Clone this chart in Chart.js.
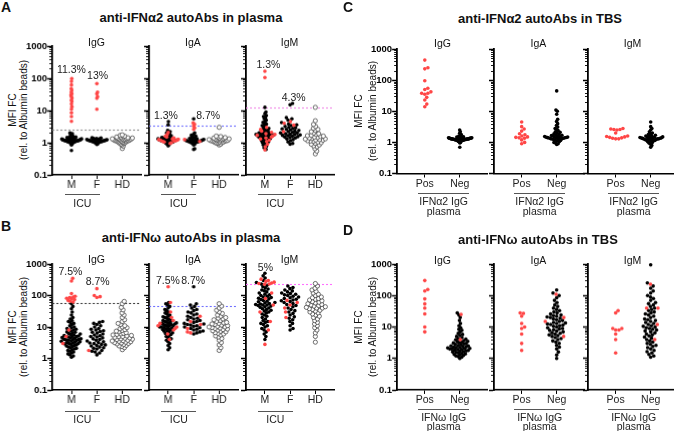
<!DOCTYPE html>
<html>
<head>
<meta charset="utf-8">
<script src="https://cdn.jsdelivr.net/npm/chart.js@4.4.1/dist/chart.umd.min.js"></script>
<style>
  body { margin: 0; width: 674px; height: 431px; position: relative; overflow: hidden; background: #fff;
         font-family: "Liberation Sans", Arial, sans-serif; color: #111; }
  .t { position: absolute; white-space: nowrap; line-height: 1; transform: translate(-50%, -50%); }
  .hl { position: absolute; height: 0; border-top: 1px solid #555; }
  canvas { position: absolute; }
</style>
</head>
<body>
<script>
const FONT = '"Liberation Sans", Arial, sans-serif';
const decades = [0.1, 1, 10, 100, 1000];
const icuCats = ['M', 'F', 'HD'];
const tbsCats = ['Pos', 'Neg'];
const isotypes = ['IgG', 'IgA', 'IgM'];
const RED = '#ff4646';

const titles = { A: 'anti-IFNα2 autoAbs in plasma', B: 'anti-IFNω autoAbs in plasma',
                 C: 'anti-IFNα2 autoAbs in TBS', D: 'anti-IFNω autoAbs in TBS' };
const groupLabels = { A: ['ICU'], B: ['ICU'], C: ['IFNα2 IgG', 'plasma'], D: ['IFNω IgG', 'plasma'] };

// cut-offs and % positive above them
const aCut = [2.5, 3.4, 12.5];
const bCut = [58, 46, 225];
const aPct = [['11.3%', '13%'], ['1.3%', '8.7%'], ['1.3%', '4.3%']];
const bPct = [['7.5%', '8.7%'], ['7.5%', '8.7%'], ['5%']];

// ---- A: anti-IFNa2 in plasma (black = ICU, red = IFNa2 IgG positive, open = HD)
const aIgG_M = [0.57,0.85,0.9,0.95,0.98,1,1,1.02,1.04,1.05,1.06,1.07,1.08,1.08,1.1,1.1,1.1,1.12,1.12,1.13,1.14,1.15,1.15,1.16,1.17,1.18,1.18,1.19,1.2,1.2,1.2,1.21,1.22,1.23,1.24,1.25,1.25,1.26,1.27,1.28,1.3,1.3,1.31,1.32,1.34,1.35,1.36,1.38,1.4,1.42,1.45,1.48,1.5,1.55,1.6,1.65,1.7,1.8,1.9,2.0];
const aIgG_Mpos = [98,80,62,48,42,37,33,30,27,24,21,19,16,13,11,8.5,6.5,4.6];
const aIgG_F = [0.88,0.92,0.95,0.98,1,1.02,1.03,1.05,1.06,1.07,1.08,1.09,1.1,1.1,1.11,1.12,1.13,1.14,1.15,1.15,1.16,1.17,1.18,1.19,1.2,1.2,1.21,1.22,1.23,1.24,1.25,1.26,1.28,1.3,1.32,1.34,1.36,1.38,1.4,1.42];
const aIgG_Fpos = [68,37,33,27,24,11];
const aIgG_HD = [0.66,0.78,0.85,0.9,0.95,0.98,1,1.03,1.05,1.08,1.1,1.12,1.14,1.15,1.17,1.18,1.2,1.22,1.23,1.25,1.27,1.28,1.3,1.32,1.34,1.36,1.38,1.4,1.43,1.46,1.5,1.55,1.6,1.68,1.75];

const aIgA_M = [0.8,0.85,0.9,0.92,0.95,0.97,1,1,1.02,1.04,1.05,1.06,1.08,1.1,1.1,1.12,1.13,1.15,1.15,1.17,1.18,1.2,1.2,1.21,1.22,1.24,1.25,1.26,1.28,1.3,1.3,1.32,1.34,1.35,1.37,1.4,1.42,1.45,1.48,1.5,1.55,1.6,1.65,1.7,1.8,1.9,2.0,2.2,2.4,3.6,4.5];
const aIgA_Mpos = [0.95,1.0,1.05,1.1,1.12,1.15,1.18,1.2,1.22,1.25,1.28,1.3,1.35,1.4,1.5,1.6,1.8,2.1];
const aIgA_F = [0.62,0.65,0.85,0.9,0.95,0.98,1,1.02,1.04,1.05,1.06,1.08,1.1,1.1,1.12,1.13,1.15,1.16,1.18,1.2,1.2,1.22,1.24,1.25,1.27,1.3,1.32,1.35,1.4,1.45,1.5,1.6,1.7,1.85,2.0,5.5];
const aIgA_Fpos = [4.1,3.7,3.3,2.9,2.6,1.25,1.1];
const aIgA_HD = [0.85,0.9,0.95,0.98,1,1.02,1.05,1.07,1.1,1.12,1.14,1.15,1.17,1.18,1.2,1.22,1.24,1.25,1.27,1.3,1.32,1.35,1.38,1.4,1.45,1.5,1.55,1.6,3.0];

const aIgM_M = [0.62,0.7,0.78,0.85,0.9,0.95,1,1.05,1.1,1.15,1.2,1.25,1.3,1.35,1.4,1.45,1.5,1.5,1.55,1.6,1.6,1.65,1.7,1.7,1.75,1.8,1.8,1.85,1.9,1.95,2,2,2.1,2.2,2.3,2.4,2.5,2.6,2.7,2.8,3,3.2,3.4,3.6,3.8,4,4.3,4.6,5,5.5,6,6.5,7,8,9,12.5];
const aIgM_Mpos = [165,105,3.0,2.6,2.3,2.1,1.9,1.8,1.7,1.6,1.5,1.4,1.3,1.2,1.1,0.9,0.75,0.6];
const aIgM_F = [0.9,0.95,1.05,1.15,1.25,1.3,1.4,1.45,1.5,1.55,1.6,1.65,1.7,1.75,1.8,1.85,1.9,2,2,2.1,2.2,2.3,2.4,2.5,2.6,2.7,2.8,2.9,3,3.2,3.4,3.6,3.8,4.2,5,5.5,6,15,16.5];
const aIgM_Fpos = [4.5,4.0,3.5,2.2];
const aIgM_HD = [0.45,0.55,0.65,0.75,0.8,0.85,0.9,0.95,1,1.05,1.1,1.12,1.15,1.2,1.22,1.25,1.3,1.32,1.35,1.4,1.45,1.5,1.55,1.6,1.65,1.7,1.8,1.9,2,2.2,2.4,2.6,2.8,3.2,3.7,4.8,12.5];

// ---- B: anti-IFNw in plasma
const bIgG_M = [1.1,1.2,1.3,1.4,1.5,1.6,1.7,1.8,1.9,2,2.1,2.2,2.3,2.4,2.5,2.6,2.7,2.8,2.9,3,3,3.1,3.2,3.3,3.4,3.5,3.6,3.7,3.8,3.9,4,4,4.1,4.2,4.4,4.5,4.6,4.8,5,5,5.2,5.4,5.6,5.8,6,6.2,6.5,6.8,7,7.5,8,8.5,9,9.5,10,11,12,13,14,15,16,18,20,24,30,38,45,55];
const bIgG_Mpos = [350,290,115,95,90,86,82,78,74,70,66,62,8,5,3];
const bIgG_F = [1.3,1.5,1.6,1.7,1.8,2,2.1,2.2,2.3,2.5,2.6,2.7,2.8,3,3.1,3.2,3.4,3.6,3.8,4,4.2,4.5,4.8,5,5.3,5.6,6,6.4,6.8,7.2,7.6,8,8.5,9,10,11,12,13,14,15];
const bIgG_Fpos = [165,100,92,86,1.8];
const bIgG_HD = [1.9,2.2,2.4,2.5,2.6,2.8,2.9,3,3.1,3.2,3.3,3.4,3.5,3.6,3.7,3.8,4,4.1,4.2,4.4,4.5,4.7,4.9,5,5.2,5.4,5.6,5.8,6,6.3,6.6,7,7.4,7.8,8.2,8.8,9.5,10,11,12,13,15,17,20,24,28,35,42,55,65];

const bIgA_M = [1.9,2.2,2.6,3,3.4,3.8,4.2,4.6,5,5.4,5.8,6.2,6.6,7,7.3,7.6,8,8.3,8.6,9,9.3,9.6,10,10,10.5,11,11,11.5,12,12,12.5,13,13,13.5,14,14.5,15,15.5,16,17,18,19,20,21,22,24,26,28,30,33,36,40,45,50,55,60];
const bIgA_Mpos = [190,60,30,20,16,13,11,10,9,8,6,4];
const bIgA_F = [6,6.5,7,7.5,8,8.5,9,9.5,10,10.5,11,11.5,12,12.5,13,14,15,16,17,18,19,20,22,24,26,28,30,33,36,40,45,50,55,190];
const bIgA_Fpos = [22,15,12,9,7,6.5];
const bIgA_HD = [1.8,2.2,2.7,3.2,3.8,4.3,4.8,5.2,5.6,6,6.3,6.6,7,7.3,7.6,8,8.3,8.6,9,9.3,9.6,10,10,10.5,11,11.5,12,12.5,13,13.5,14,15,16,17,18,19,20,22,24,27,30,34,40,46,55];

const bIgM_M = [4,5,6,7,8,9,10,11,12,13,14,15,16,18,20,22,24,26,28,30,32,34,36,38,40,42,44,46,48,50,50,52,54,56,58,60,63,66,70,74,78,82,86,90,95,100,105,110,120,130,140,150,160,175,190,210,230,260,300,360,420,510];
const bIgM_Mpos = [330,300,280,265,250,240,232,228,120,80,50,30,15,8,2.8];
const bIgM_F = [8,9,11,13,15,17,19,21,24,27,30,33,36,40,44,48,52,56,60,64,68,72,76,80,85,90,95,100,105,110,115,120,130,140,150,165,180,200];
const bIgM_Fpos = [70,60,50,40,30,20];
const bIgM_HD = [3.3,5,6.5,8,9.5,11,12.5,14,16,18,20,22,24,26,28,30,32,34,36,38,40,40,42,44,46,48,50,52,55,58,61,64,68,72,76,80,85,90,100,110,120,135,150,170,200,240];

// ---- C: anti-IFNa2 in TBS (Pos / Neg = IFNa2 IgG status in plasma)
const cIgG_Pos = [440,250,230,95,55,50,42,38,38,35,28,23,17,14];
const cIgG_Neg = [0.7,0.95,1,1.05,1.08,1.1,1.12,1.14,1.15,1.16,1.18,1.19,1.2,1.2,1.21,1.22,1.23,1.24,1.25,1.25,1.26,1.27,1.28,1.28,1.29,1.3,1.3,1.3,1.31,1.32,1.33,1.34,1.35,1.35,1.36,1.37,1.38,1.39,1.4,1.4,1.42,1.44,1.46,1.48,1.5,1.55,1.6,1.7,1.8,1.95,2.2,2.5];
const cIgA_Pos = [4.5,3.2,2.7,2.3,1.9,1.75,1.6,1.5,1.45,1.4,1.35,1.2,1.0,0.9];
const cIgA_Neg = [0.85,0.9,0.95,1,1.05,1.1,1.15,1.2,1.22,1.25,1.28,1.3,1.32,1.35,1.36,1.38,1.4,1.4,1.42,1.44,1.46,1.48,1.5,1.52,1.55,1.58,1.6,1.65,1.7,1.75,1.8,1.9,2,2.1,2.2,2.4,2.6,2.8,3.1,3.5,4,4.7,5.5,8,10,11,45];
const cIgM_Pos = [2.8,2.7,2.6,2.6,2.5,2.0,1.6,1.55,1.5,1.45,1.4,1.35,1.3,1.3];
const cIgM_Neg = [0.7,0.8,0.88,0.95,1,1.05,1.1,1.12,1.15,1.18,1.2,1.22,1.24,1.26,1.28,1.3,1.3,1.32,1.34,1.36,1.38,1.4,1.4,1.42,1.44,1.46,1.48,1.5,1.55,1.6,1.65,1.7,1.8,1.9,2,2.2,2.5,2.8,3.2,4.5];

// ---- D: anti-IFNw in TBS
const dIgG_Pos = [300,155,140,78,54,40,26,10,7];
const dIgG_NegRed = [25,4];
const dIgG_Neg = [1,1.1,1.15,1.2,1.25,1.3,1.35,1.4,1.45,1.5,1.55,1.6,1.65,1.7,1.75,1.8,1.85,1.9,1.95,2,2,2.05,2.1,2.15,2.2,2.25,2.3,2.35,2.4,2.5,2.5,2.6,2.7,2.8,2.9,3,3.1,3.2,3.3,3.4,3.5,3.7,3.9,4.1,4.3,4.6,5,5.4,5.8,6.3,7,7.8,8.5,9.5,11,13,16,20,24,28];
const dIgA_Pos = [28,27,22,13,10,9,6,3,1.8];
const dIgA_NegRed = [110,20,15,5];
const dIgA_Neg = [1,1.3,1.6,2,2.3,2.6,3,3.3,3.6,4,4.3,4.6,5,5.3,5.6,6,6.3,6.6,7,7.4,7.8,8.2,8.6,9,9.5,10,10.5,11,11.5,12,12.5,13,13.5,14,15,16,17,18,19,20,21,22,23,24,26,28,30,33,36,40,45,50,60,70,85,100,120,150];
const dIgM_Pos = [33,28,9,9,8,8,6,4,1.5];
const dIgM_NegRed = [230,40,40,12,4];
const dIgM_Neg = [1.1,1.2,1.35,1.5,1.65,1.8,2,2.2,2.4,2.6,2.8,3,3.3,3.6,4,4.4,4.8,5.2,5.6,6,6.5,7,7.5,8,8.5,9,9.5,10,10.5,11,12,13,14,15,16,17,18,20,22,24,26,28,30,33,36,40,45,50,55,60,70,80,90,100,120,140,170,200,250,950];

const panels = {
  A: [
    { cut: aCut[0], pct: aPct[0], groups: [{ black: aIgG_M, red: aIgG_Mpos }, { black: aIgG_F, red: aIgG_Fpos }, { open: aIgG_HD }] },
    { cut: aCut[1], pct: aPct[1], groups: [{ black: aIgA_M, red: aIgA_Mpos }, { black: aIgA_F, red: aIgA_Fpos }, { open: aIgA_HD }] },
    { cut: aCut[2], pct: aPct[2], groups: [{ black: aIgM_M, red: aIgM_Mpos }, { black: aIgM_F, red: aIgM_Fpos }, { open: aIgM_HD }] }
  ],
  B: [
    { cut: bCut[0], pct: bPct[0], groups: [{ black: bIgG_M, red: bIgG_Mpos }, { black: bIgG_F, red: bIgG_Fpos }, { open: bIgG_HD }] },
    { cut: bCut[1], pct: bPct[1], groups: [{ black: bIgA_M, red: bIgA_Mpos }, { black: bIgA_F, red: bIgA_Fpos }, { open: bIgA_HD }] },
    { cut: bCut[2], pct: bPct[2], groups: [{ black: bIgM_M, red: bIgM_Mpos }, { black: bIgM_F, red: bIgM_Fpos }, { open: bIgM_HD }] }
  ],
  C: [
    { groups: [{ red: cIgG_Pos }, { black: cIgG_Neg }] },
    { groups: [{ red: cIgA_Pos }, { black: cIgA_Neg }] },
    { groups: [{ red: cIgM_Pos }, { black: cIgM_Neg }] }
  ],
  D: [
    { groups: [{ red: dIgG_Pos }, { black: dIgG_Neg, red: dIgG_NegRed }] },
    { groups: [{ red: dIgA_Pos }, { black: dIgA_Neg, red: dIgA_NegRed }] },
    { groups: [{ red: dIgM_Pos }, { black: dIgM_Neg, red: dIgM_NegRed }] }
  ]
};

// page geometry (px)
const ab = { lefts: [52.5, 149, 245.5], width: 88, xMin: 0.25, xMax: 3.74, half: 10, cats: icuCats,
             yLabX: [13.3, 23.5], cutColors: null };
const cd = { lefts: [397.5, 493.5, 587.5], width: 90, xMin: 0.21, xMax: 2.78, half: 12, cats: tbsCats,
             yLabX: [358.5, 372.5] };
const layout = {
  A: Object.assign({}, ab, { top: 46, bottom: 174, letter: [6, 7], title: [191, 16.5], sub: 41.5, yLab: 110,
       line: 193.5, lab: [203], cutColors: ['#8c8c8c', '#7070ff', '#f08ce6'],
       pctY: [[69, 75], [115, 115], [64, 97]], pctDx: [[0, 1], [-2, 15], [4, 4]] }),
  B: Object.assign({}, ab, { top: 263.5, bottom: 389.5, letter: [6, 225.5], title: [191, 236.5], sub: 259, yLab: 326.5,
       line: 410.5, lab: [419], cutColors: ['#3c3c3c', '#7070ff', '#ff70ff'],
       pctY: [[271, 281], [280, 280], [267]], pctDx: [[-1, 1], [0, 0], [1]] }),
  C: Object.assign({}, cd, { top: 49, bottom: 173.5, letter: [348, 7], title: [540, 17.5], sub: 42.5, yLab: 111,
       line: 193, lab: [201, 211] }),
  D: Object.assign({}, cd, { top: 264, bottom: 389, letter: [348, 230], title: [538, 239], sub: 260, yLab: 326.5,
       line: 409, lab: [416.5, 426] })
};

function txt(s, x, y, css) {
  const d = document.createElement('div');
  d.className = 't';
  d.textContent = s;
  d.style.left = x + 'px';
  d.style.top = y + 'px';
  Object.assign(d.style, css || {});
  document.body.appendChild(d);
  return d;
}

// simple beeswarm: nearest free slot to the centre, squeezed to the column width
function swarm(vals, pxDec, d, maxHalf) {
  const pts = vals.map(p => ({ v: p.v, kind: p.kind, py: Math.log10(p.v) * pxDec }));
  pts.sort((a, b) => a.py - b.py);
  const placed = [];
  for (const p of pts) {
    const near = placed.filter(q => Math.abs(q.py - p.py) < d);
    const cands = [0];
    for (const q of near) {
      const off = Math.sqrt(d * d - (q.py - p.py) ** 2);
      cands.push(q.px + off, q.px - off);
    }
    cands.sort((a, b) => Math.abs(a) - Math.abs(b));
    p.px = cands.find(c => near.every(q => (q.px - c) ** 2 + (q.py - p.py) ** 2 >= d * d - 1e-6)) ?? 0;
    placed.push(p);
  }
  const w = Math.max(...pts.map(p => Math.abs(p.px)));
  const k = w > maxHalf ? maxHalf / w : 1;
  pts.forEach(p => { p.px *= k; });
  return pts;
}

const minorTicks = {
  id: 'minorTicks',
  afterDraw(chart) {
    const s = chart.scales.y, ctx = chart.ctx, x0 = chart.chartArea.left;
    ctx.save();
    ctx.strokeStyle = '#000';
    ctx.lineWidth = 0.9;
    decades.slice(0, -1).forEach(dec => {
      for (let m = 2; m < 10; m++) {
        const y = Math.round(s.getPixelForValue(dec * m)) + 0.5;
        ctx.beginPath();
        ctx.moveTo(x0 - 3, y);
        ctx.lineTo(x0, y);
        ctx.stroke();
      }
    });
    ctx.restore();
  }
};

const cutoffLine = {
  id: 'cutoffLine',
  beforeDatasetsDraw(chart, args, opts) {
    if (!opts.value) return;
    const a = chart.chartArea, ctx = chart.ctx;
    const y = Math.round(chart.scales.y.getPixelForValue(opts.value)) + 0.5;
    ctx.save();
    ctx.setLineDash([2, 2]);
    ctx.strokeStyle = opts.color;
    ctx.lineWidth = 1.1;
    ctx.beginPath();
    ctx.moveTo(a.left, y);
    ctx.lineTo(a.right, y);
    ctx.stroke();
    ctx.restore();
  }
};

function subplot(key, k, sub) {
  const g = layout[key];
  const cats = g.cats;
  const pxX = g.width / (g.xMax - g.xMin);
  const pxDec = (g.bottom - g.top) / 4;
  const sets = { red: [], black: [], open: [] };
  sub.groups.forEach((grp, i) => {
    const vals = [];
    ['black', 'red', 'open'].forEach(kind => (grp[kind] || []).forEach(v => vals.push({ v, kind })));
    swarm(vals, pxDec, 3.3, g.half).forEach(p => sets[p.kind].push({ x: i + 1 + p.px / pxX, y: p.v }));
  });

  const cv = document.createElement('canvas');
  cv.width = g.width + 60;
  cv.height = g.bottom - g.top + 40;
  document.body.appendChild(cv);

  const chart = new Chart(cv, {
    type: 'scatter',
    data: {
      datasets: [
        { data: sets.red, pointBackgroundColor: RED, pointBorderWidth: 0, pointRadius: 1.8, clip: false },
        { data: sets.black, pointBackgroundColor: '#000', pointBorderWidth: 0, pointRadius: 1.8, clip: false },
        { data: sets.open, pointBackgroundColor: '#fff', pointBorderColor: '#333', pointBorderWidth: 0.7, pointRadius: 2.1, clip: false }
      ]
    },
    options: {
      responsive: false,
      maintainAspectRatio: false,
      animation: false,
      events: [],
      layout: { padding: { top: 8, right: 4, left: 2, bottom: 2 } },
      plugins: {
        legend: { display: false },
        tooltip: { enabled: false },
        cutoffLine: { value: sub.cut, color: g.cutColors ? g.cutColors[k] : '#000' }
      },
      scales: {
        x: {
          type: 'linear', min: g.xMin, max: g.xMax,
          afterBuildTicks: s => { s.ticks = cats.map((c, i) => ({ value: i + 1 })); },
          ticks: { callback: v => cats[Math.round(v) - 1], font: { family: FONT, size: 10.5 }, color: '#222',
                   padding: 0, autoSkip: false, maxRotation: 0 },
          grid: { display: true, drawOnChartArea: false, tickLength: 4, tickWidth: 1, tickColor: '#000' },
          border: { display: true, width: 1.5, color: '#000' }
        },
        y: {
          type: 'logarithmic', min: 0.1, max: 1000,
          afterBuildTicks: s => { s.ticks = decades.map(v => ({ value: v })); },
          ticks: { display: k === 0, callback: v => String(v), font: { family: FONT, size: 9.5, weight: 'bold' },
                   color: '#000', padding: 0, autoSkip: false },
          grid: { display: true, drawOnChartArea: false, tickLength: 5, tickWidth: 1.5, tickColor: '#000' },
          border: { display: true, width: 1.8, color: '#000' }
        }
      }
    },
    plugins: [minorTicks, cutoffLine]
  });

  // size the canvas so the plot area matches, then place it
  let ca = chart.chartArea;
  chart.resize(cv.width + g.width - (ca.right - ca.left), cv.height + (g.bottom - g.top) - (ca.bottom - ca.top));
  chart.update('none');
  ca = chart.chartArea;
  cv.style.left = (g.lefts[k] - ca.left) + 'px';
  cv.style.top = (g.top - ca.top) + 'px';

  // texts around the subplot
  const left = g.lefts[k];
  const catX = i => left + (i + 1 - g.xMin) * pxX;
  txt(isotypes[k], left + g.width / 2, g.sub, { fontSize: '10.5px' });
  (sub.pct || []).forEach((s, i) => txt(s, catX(i) + g.pctDx[k][i], g.pctY[k][i], { fontSize: '10.5px', color: '#222' }));
  const x1 = cats.length === 3 ? catX(0) - 6.5 : catX(0) - 7;
  const x2 = cats.length === 3 ? catX(1) + 3 : catX(1) + 9;
  const hl = document.createElement('div');
  hl.className = 'hl';
  hl.style.left = x1 + 'px';
  hl.style.top = g.line + 'px';
  hl.style.width = (x2 - x1) + 'px';
  document.body.appendChild(hl);
  groupLabels[key].forEach((s, i) => txt(s, (x1 + x2) / 2, g.lab[i], { fontSize: '10.5px', color: '#222' }));
}

Object.keys(panels).forEach(key => {
  const g = layout[key];
  txt(key, g.letter[0], g.letter[1], { fontSize: '14px', fontWeight: 'bold' });
  txt(titles[key], g.title[0], g.title[1], { fontSize: '13px', fontWeight: 'bold' });
  txt('MFI FC', g.yLabX[0], g.yLab, { fontSize: '10px', transform: 'translate(-50%,-50%) rotate(-90deg)' });
  txt('(rel. to Albumin beads)', g.yLabX[1], g.yLab, { fontSize: '10px', transform: 'translate(-50%,-50%) rotate(-90deg)' });
  panels[key].forEach((sub, k) => subplot(key, k, sub));
});
</script>
</body>
</html>
